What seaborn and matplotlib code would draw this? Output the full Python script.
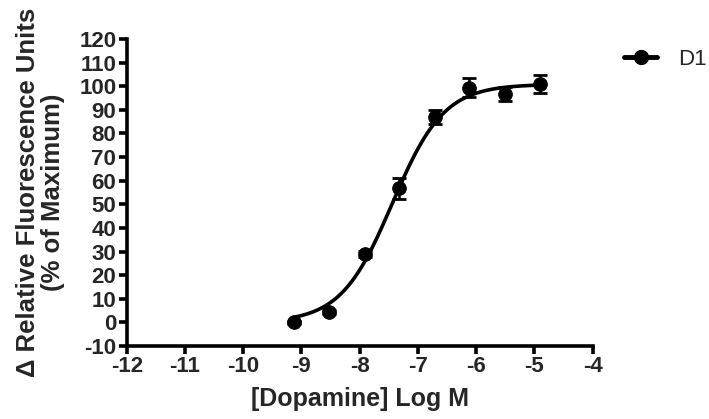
import numpy as np
import pandas as pd
import matplotlib
matplotlib.use("Agg")
import matplotlib.pyplot as plt
from matplotlib.lines import Line2D
import seaborn as sns

# ---- data ----
log_conc = [-9.13, -8.52, -7.91, -7.32, -6.71, -6.12, -5.50, -4.90]
response = [0.0, 4.5, 29.0, 56.7, 86.9, 99.4, 96.7, 101.0]
sem = [0.8, 0.8, 1.2, 4.3, 3.0, 3.9, 3.0, 3.9]
series_name = "D1"
x_ticks = [-12, -11, -10, -9, -8, -7, -6, -5, -4]
y_ticks = [-10, 0, 10, 20, 30, 40, 50, 60, 70, 80, 90, 100, 110, 120]
# sigmoidal dose-response fit parameters (as drawn in the reference)
fit_bottom = 0.0
fit_top = 100.8
fit_logec50 = -7.44
fit_hill = 0.98

sns.set_theme(style="white")
plt.rcParams["font.family"] = ["Liberation Sans", "DejaVu Sans"]

df = pd.DataFrame({"logc": log_conc, "resp": response, "sem": sem})
xc = np.linspace(min(log_conc), max(log_conc), 300)
curve = pd.DataFrame({"logc": xc,
                      "resp": fit_bottom + (fit_top - fit_bottom)
                      / (1 + 10 ** ((fit_logec50 - xc) * fit_hill))})

fig = plt.figure(figsize=(7.09, 4.19), dpi=100)
ax = fig.add_axes([0.1787, 0.1742, 0.836 - 0.1787, 0.907 - 0.1742])

sns.lineplot(data=curve, x="logc", y="resp", ax=ax, color="black", lw=2.6)
ax.errorbar(df["logc"], df["resp"], yerr=df["sem"], fmt="none", ecolor="black",
            elinewidth=1.8, capsize=5, capthick=2.0, zorder=3)
sns.scatterplot(data=df, x="logc", y="resp", ax=ax, color="black", s=95,
                edgecolor="black", zorder=4)

ax.set_xlim(-12, -4)
ax.set_ylim(-10, 120)
ax.set_xticks(x_ticks)
ax.set_yticks(y_ticks)
ax.set_xticklabels([str(t) for t in x_ticks])
ax.set_yticklabels([str(t) for t in y_ticks])
for s in ["top", "right"]:
    ax.spines[s].set_visible(False)
for s in ["left", "bottom"]:
    ax.spines[s].set_linewidth(2.6)
    ax.spines[s].set_color("black")
ax.tick_params(axis="both", direction="out", length=6, width=2.6, color="black",
               labelsize=16, pad=1.5, left=True, bottom=True)
for lab in ax.get_xticklabels() + ax.get_yticklabels():
    lab.set_fontweight("bold")

ax.set_xlabel("[Dopamine] Log M", fontsize=18, fontweight="bold", labelpad=7)
ax.set_ylabel("\u0394 Relative Fluorescence Units\n(% of Maximum)", fontsize=18.5,
              fontweight="bold", labelpad=10, linespacing=1.05)

handle = Line2D([], [], color="black", lw=3.5, marker="o", markersize=10)
fig.legend([handle], [series_name], loc="center left",
           bbox_to_anchor=(0.880, 0.859), frameon=False, fontsize=16,
           handlelength=1.5, handletextpad=0.95, borderaxespad=0, borderpad=0)

ax.set_facecolor("white")
fig.savefig("out.png", dpi=100, facecolor="white")
